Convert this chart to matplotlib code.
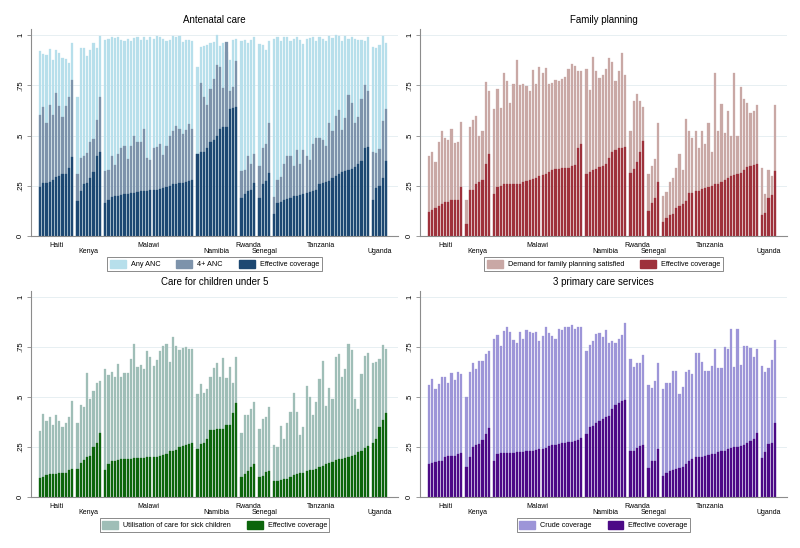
import numpy as np
import matplotlib
matplotlib.use("Agg")
import matplotlib.pyplot as plt
from matplotlib.patches import Patch
from matplotlib.transforms import blended_transform_factory

plt.rcParams['font.family'] = ['Liberation Sans', 'DejaVu Sans']

countries = ["Haiti", "Kenya", "Malawi", "Namibia", "Rwanda", "Senegal", "Tanzania", "Uganda"]

# ---- Antenatal care (one list per country, same order as countries)
anc_any = [
    [.92, .905, .90, .93, .875, .925, .91, .885, .88, .86, .96],
    [.69, .935, .935, .895, .925, .96, .935, .995],
    [.975, .98, .99, .985, .99, .975, .97, .98, .97, .985, .99, .975, .99, .975,
     .99, .98, .995, .99, .98, .97, .975, .995, .99, .995, .965, .975, .975, .97],
    [.84, .94, .945, .95, .96, .965, 1.0, .945, .96, .915, .875, .975, .98],
    [.97, .975, .96, .975, .99],
    [.955, .95, .925, .97],
    [.98, .99, .97, .99, .99, .97, .98, .99, .975, .955, .98, .985, .99, .97, .99,
     .98, .97, .995, .985, 1.0, .995, .97, .995, .98, .99, .98, .975, .975, .97, .99],
    [.94, .935, .95, .995, .96],
]
anc_4 = [
    [.60, .64, .56, .65, .60, .71, .645, .59, .645, .69, .775],
    [.31, .39, .40, .415, .47, .485, .575, .69],
    [.325, .33, .40, .355, .41, .44, .45, .385, .45, .50, .47, .47, .53, .39,
     .38, .44, .445, .46, .405, .45, .50, .52, .545, .53, .505, .525, .555, .53],
    [.41, .76, .69, .65, .73, .78, .85, .84, .735, .965, .72, .74, .87],
    [.325, .33, .40, .36, .41],
    [.35, .44, .46, .56],
    [.195, .28, .295, .36, .40, .40, .35, .43, .36, .43, .40, .38, .46, .49, .49,
     .48, .45, .56, .52, .595, .625, .525, .585, .70, .66, .56, .59, .68, .75, .72],
    [.42, .415, .435, .57, .63],
]
anc_eff = [
    [.245, .265, .265, .27, .28, .295, .30, .31, .31, .34, .395],
    [.175, .225, .26, .265, .29, .32, .40, .42],
    [.165, .18, .195, .20, .20, .205, .21, .21, .215, .215, .22, .225, .225, .225,
     .23, .23, .23, .235, .24, .245, .25, .26, .26, .265, .265, .27, .275, .28],
    [.41, .42, .42, .44, .47, .48, .50, .53, .54, .54, .63, .635, .64],
    [.19, .21, .225, .23, .265],
    [.19, .26, .275, .315],
    [.11, .165, .17, .18, .185, .19, .20, .20, .205, .21, .215, .22, .225, .23, .26,
     .265, .27, .275, .29, .30, .31, .32, .325, .33, .335, .345, .36, .375, .44, .445],
    [.18, .24, .25, .29, .375],
]

# ---- Family planning
fp_dem = [
    [.40, .42, .37, .47, .52, .49, .48, .53, .465, .47, .565],
    [.18, .54, .575, .595, .50, .52, .765, .72],
    [.63, .73, .635, .81, .77, .66, .755, .875, .75, .755, .745, .72, .825, .755,
     .84, .81, .835, .755, .76, .775, .77, .78, .79, .83, .855, .845, .82, .82],
    [.83, .725, .89, .82, .785, .80, .83, .885, .865, .77, .82, .91, .80],
    [.52, .67, .705, .67, .64],
    [.31, .35, .385, .56],
    [.20, .22, .27, .29, .34, .41, .33, .58, .52, .49, .52, .44, .52, .46, .56,
     .42, .81, .52, .655, .51, .62, .50, .81, .50, .74, .68, .66, .61, .62, .65],
    [.34, .21, .33, .30, .65],
]
fp_eff = [
    [.12, .13, .14, .15, .16, .17, .17, .18, .18, .18, .245],
    [.06, .23, .23, .26, .27, .28, .36, .41],
    [.21, .245, .25, .26, .26, .26, .26, .26, .26, .27, .275, .28, .285, .29,
     .30, .305, .31, .32, .33, .335, .335, .34, .34, .34, .35, .355, .44, .46],
    [.31, .32, .33, .335, .345, .35, .36, .39, .42, .43, .44, .44, .445],
    [.315, .335, .37, .42, .475],
    [.125, .165, .19, .27],
    [.07, .09, .105, .11, .14, .15, .16, .175, .215, .215, .225, .225, .235, .24, .245,
     .25, .26, .26, .27, .28, .29, .30, .305, .31, .315, .33, .345, .35, .355, .36],
    [.105, .115, .19, .205, .325],
]

# ---- Care for children under 5
ch_util = [
    [.33, .415, .38, .40, .36, .41, .38, .35, .37, .40, .48],
    [.37, .46, .45, .62, .49, .53, .57, .58],
    [.64, .61, .625, .60, .665, .60, .62, .62, .69, .765, .65, .66, .64, .73,
     .70, .655, .685, .73, .755, .765, .675, .80, .755, .735, .745, .75, .74, .74],
    [.515, .565, .52, .54, .60, .645, .67, .60, .695, .595, .65, .57, .70],
    [.32, .41, .41, .44, .475],
    [.34, .39, .40, .45],
    [.26, .25, .355, .29, .37, .425, .52, .425, .31, .35, .555, .50, .41, .475, .59,
     .68, .455, .545, .49, .70, .715, .60, .64, .765, .735, .49, .44, .615, .705, .72],
    [.67, .675, .69, .76, .74],
]
ch_eff = [
    [.095, .10, .11, .115, .115, .115, .12, .12, .12, .135, .14],
    [.14, .17, .185, .20, .205, .25, .27, .32],
    [.135, .165, .18, .18, .185, .19, .19, .19, .19, .195, .195, .195, .195, .20,
     .20, .20, .20, .205, .21, .215, .23, .23, .235, .25, .255, .26, .265, .27],
    [.24, .265, .27, .29, .335, .335, .34, .34, .34, .36, .36, .42, .47],
    [.10, .115, .13, .15, .165],
    [.10, .105, .125, .13],
    [.08, .08, .085, .09, .09, .10, .11, .115, .12, .12, .13, .135, .135, .14, .15,
     .155, .165, .17, .175, .185, .19, .19, .195, .20, .205, .21, .225, .23, .245, .255],
    [.27, .29, .35, .385, .42],
]

# ---- 3 primary care services
pc_crude = [
    [.56, .59, .54, .565, .60, .60, .57, .62, .585, .625, .615],
    [.50, .625, .67, .64, .68, .68, .715, .73],
    [.79, .81, .755, .83, .85, .825, .785, .77, .825, .79, .835, .825, .82, .825,
     .78, .805, .85, .82, .805, .79, .84, .835, .85, .85, .86, .84, .85, .85],
    [.73, .76, .78, .815, .82, .80, .835, .77, .78, .77, .79, .81, .87],
    [.69, .65, .67, .67, .71],
    [.56, .545, .58, .67],
    [.54, .57, .57, .63, .63, .515, .55, .625, .635, .615, .72, .72, .675, .63, .63,
     .655, .74, .645, .645, .75, .74, .84, .65, .84, .66, .755, .755, .745, .70, .74],
    [.655, .625, .645, .685, .785],
]
pc_eff = [
    [.165, .17, .175, .18, .18, .20, .205, .205, .205, .215, .22],
    [.15, .20, .25, .26, .265, .285, .315, .345],
    [.18, .215, .22, .22, .22, .22, .22, .225, .225, .225, .23, .23, .23, .235,
     .24, .24, .245, .255, .26, .26, .265, .27, .27, .275, .275, .28, .285, .295],
    [.315, .35, .355, .37, .38, .39, .40, .405, .44, .46, .47, .48, .485],
    [.23, .23, .245, .255, .26],
    [.145, .18, .18, .24],
    [.105, .12, .13, .135, .14, .145, .15, .165, .18, .19, .20, .20, .20, .205, .21,
     .215, .215, .225, .23, .23, .24, .245, .25, .25, .255, .26, .27, .28, .29, .32],
    [.195, .225, .265, .27, .37],
]

yticks = [0, .25, .5, .75, 1]
yticklabels = ["0", ".25", ".5", ".75", "1"]

GAP = 0.6        # extra space between country groups (in bar units)
AX_W_PX = 367
L_PAD_PX, R_PAD_PX = 9, 12
AXCOL = '#8c8c8c'

panels = [
    dict(title="Antenatal care", rect=[31, 29, 398, 236],
         series=[(anc_any, '#b7dfeb', 'Any ANC'), (anc_4, '#7d93ab', '4+ ANC'),
                 (anc_eff, '#1d4872', 'Effective coverage')]),
    dict(title="Family planning", rect=[420, 29, 787, 236],
         series=[(fp_dem, '#c9a8a5', 'Demand for family planning satisfied'),
                 (fp_eff, '#9e313b', 'Effective coverage')]),
    dict(title="Care for children under 5", rect=[31, 291, 398, 497],
         series=[(ch_util, '#9fbeb7', 'Utilisation of care for sick children'),
                 (ch_eff, '#0c650c', 'Effective coverage')]),
    dict(title="3 primary care services", rect=[420, 291, 787, 497],
         series=[(pc_crude, '#9d95d8', 'Crude coverage'),
                 (pc_eff, '#4c0a86', 'Effective coverage')]),
]

W, H = 800, 548
fig = plt.figure(figsize=(W / 100, H / 100), dpi=100, facecolor='white')

for p in panels:
    x0, ytop, x1, ybot = p['rect']
    ax = fig.add_axes([x0 / W, 1 - ybot / H, (x1 - x0) / W, (ybot - ytop) / H])

    sizes = [len(g) for g in p['series'][0][0]]
    xs, start = [], 0.0
    for n in sizes:
        xs.append(start + np.arange(n))
        start += n + GAP
    span = start - GAP - 1
    upp = span / (AX_W_PX - L_PAD_PX - R_PAD_PX)
    ax.set_xlim(-L_PAD_PX * upp, span + R_PAD_PX * upp)
    ax.set_ylim(0, 1 + 6 / (ybot - ytop - 6))

    allx = np.concatenate(xs)
    for vals, col, lab in p['series']:
        v = np.concatenate([np.asarray(g) for g in vals])
        ax.bar(allx, v, width=0.68, color=col, edgecolor=col, linewidth=0.2, zorder=2)

    ax.set_yticks(yticks)
    ax.set_yticklabels(yticklabels, rotation=90, va='center', fontsize=5.5)
    ax.tick_params(axis='y', length=3, width=0.6, color=AXCOL, pad=2)
    ax.set_xticks([])
    for s in ['top', 'right']:
        ax.spines[s].set_visible(False)
    for s in ['left', 'bottom']:
        ax.spines[s].set_color(AXCOL)
        ax.spines[s].set_linewidth(0.8)
    for yv in yticks[1:]:
        ax.axhline(yv, color='#e3edf0', lw=0.6, zorder=1)

    ax.set_title(p['title'], fontsize=7, pad=4)

    tr = blended_transform_factory(ax.transData, ax.transAxes)
    for i, (c, x) in enumerate(zip(countries, xs)):
        off = -6.5 if i % 2 == 0 else -11.5
        ax.annotate(c, xy=(x.mean(), 0), xycoords=tr, xytext=(0, off),
                    textcoords='offset points', ha='center', va='center', fontsize=5)

    handles = [Patch(facecolor=col, edgecolor=col) for _, col, _ in p['series']]
    labels = [lab for _, _, lab in p['series']]
    leg = ax.legend(handles, labels, loc='upper center',
                    bbox_to_anchor=(0.5, -21 / (ybot - ytop)), ncol=len(handles),
                    fontsize=5.2, frameon=True, fancybox=False, edgecolor='#555555',
                    handlelength=2.2, handleheight=1.4, handletextpad=0.7,
                    columnspacing=2.2, borderpad=0.35, borderaxespad=0)
    leg.get_frame().set_linewidth(0.6)

fig.savefig("out.png", dpi=100, facecolor='white')
